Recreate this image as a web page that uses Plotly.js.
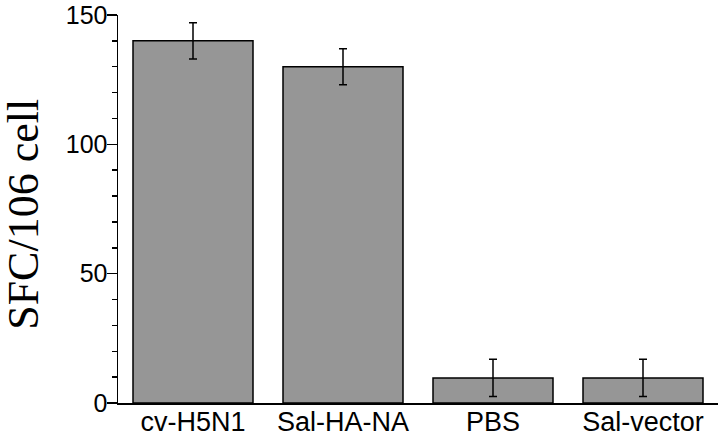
<!DOCTYPE html>
<html>
<head>
<meta charset="utf-8">
<script src="https://cdn.plot.ly/plotly-3.0.1.min.js"></script>
<style>body{margin:0;padding:0;}</style>
</head>
<body>
<div id="chart" style="width:722px;height:437px;"></div>
<script>
const groups = ["cv-H5N1", "Sal-HA-NA", "PBS", "Sal-vector"];
const sfc = [140, 130, 9.7, 9.7];
const sfcErr = [7, 7, 7.2, 7.2];
const yTicks = [0, 50, 100, 150];
const yTitle = "SFC/106 cell";

Plotly.newPlot("chart", [{
  type: "bar",
  x: groups,
  y: sfc,
  marker: {color: "#969696", line: {color: "#000", width: 1.5}},
  error_y: {type: "data", array: sfcErr, visible: true, color: "#000", thickness: 1.5, width: 4}
}], {
  width: 722,
  height: 437,
  margin: {l: 118, r: 4, t: 15, b: 34},
  paper_bgcolor: "#fff",
  plot_bgcolor: "#fff",
  bargap: 0.2,
  showlegend: false,
  font: {family: "Liberation Sans, Arial, sans-serif", color: "#000"},
  xaxis: {
    range: [-0.5, 3.5],
    showline: true, linecolor: "#000", linewidth: 1.5,
    ticks: "", tickfont: {size: 27}, ticklabelstandoff: -6,
    showgrid: false, zeroline: false
  },
  yaxis: {
    range: [0, 150],
    tickvals: yTicks,
    showline: true, linecolor: "#000", linewidth: 1.5,
    ticks: "outside", ticklen: 10, tickwidth: 1.5, tickcolor: "#000",
    minor: {dtick: 10, ticks: "outside", ticklen: 5, tickwidth: 1.5, tickcolor: "#000"},
    tickfont: {size: 25}, ticklabelstandoff: -6,
    showgrid: false, zeroline: false
  },
  annotations: [{
    text: yTitle, textangle: -90,
    xref: "paper", yref: "paper", x: 0, y: 0.485,
    xanchor: "center", yanchor: "middle", xshift: -94,
    showarrow: false,
    font: {family: "Liberation Serif, Times New Roman, serif", size: 44}
  }]
}, {staticPlot: true});
</script>
</body>
</html>
